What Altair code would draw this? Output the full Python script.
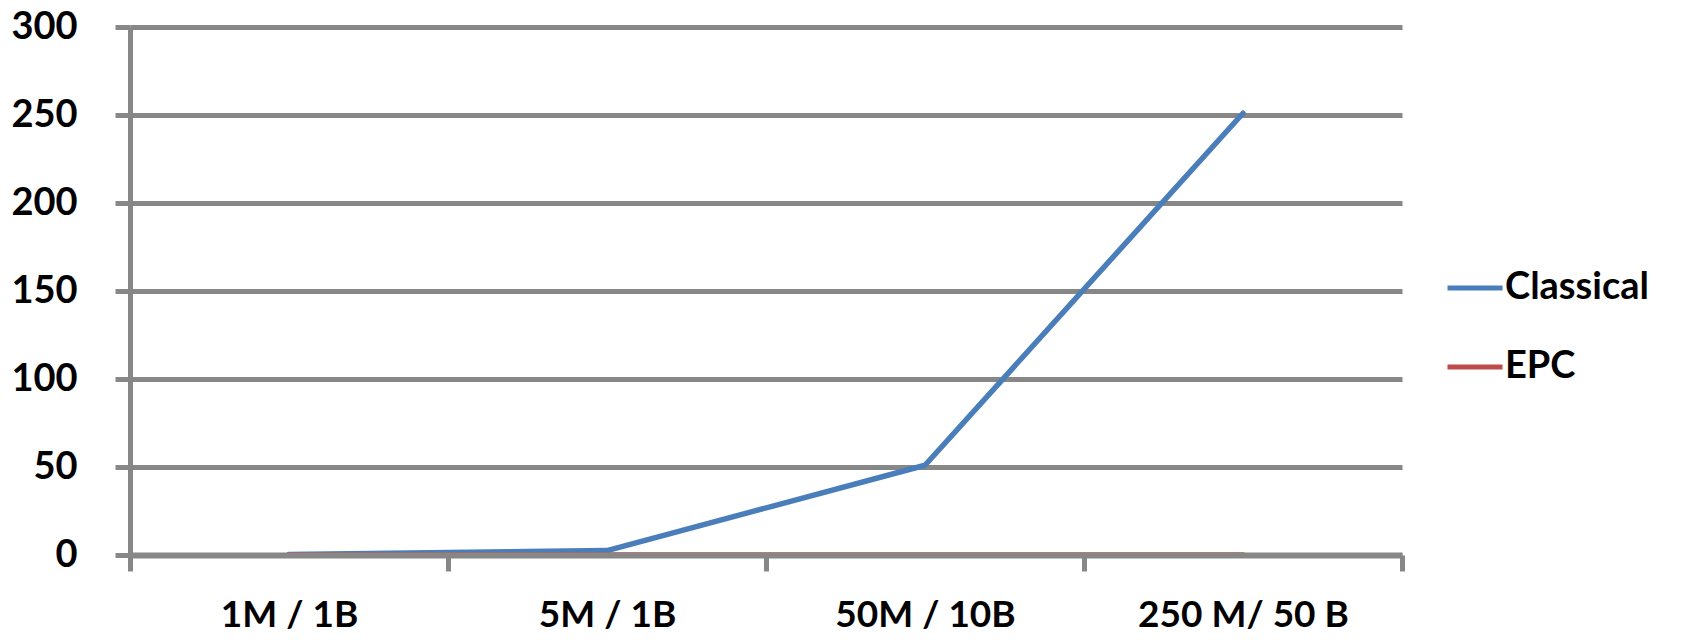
import altair as alt
import pandas as pd

categories = ["1M / 1B", "5M / 1B", "50M / 10B", "250 M/ 50 B"]
series_names = ["Classical", "EPC"]
series_colors = ["#4A7EBB", "#BE4B48"]
classical = [0.3, 2.5, 51, 251]
epc = [0, 0, 0, 0]
y_ticks = [0, 50, 100, 150, 200, 250, 300]

rows = []
for name, vals in zip(series_names, [classical, epc]):
    for c, v in zip(categories, vals):
        rows.append({"category": c, "series": name, "value": v})
df = pd.DataFrame(rows)

FONT = "Lato"
GRID = "#878787"
WEIGHT = "bold"

chart = alt.Chart(df).mark_line(
    strokeWidth=5.5, strokeCap="round", strokeJoin="round"
).encode(
    x=alt.X(
        "category:N",
        sort=categories,
        bandPosition=0.5,
        scale=alt.Scale(type="band", paddingInner=0, paddingOuter=0),
        axis=alt.Axis(
            title=None, tickBand="extent", labelAngle=0, grid=False,
            domainColor=GRID, domainWidth=6, tickColor=GRID, tickWidth=5, tickSize=16,
            labelFont=FONT, labelFontSize=37, labelFontWeight=WEIGHT, labelColor="black",
            labelPadding=26, labelLimit=0, zindex=1,
        ),
    ),
    y=alt.Y(
        "value:Q",
        scale=alt.Scale(domain=[0, 300], nice=False),
        axis=alt.Axis(
            title=None, values=y_ticks, grid=True, gridColor=GRID, gridWidth=5, gridOpacity=1,
            domainColor=GRID, domainWidth=5, tickColor=GRID, tickWidth=5, tickSize=15,
            labelFont=FONT, labelFontSize=38, labelFontWeight=WEIGHT, labelColor="black",
            labelPadding=38, labelFlush=False, labelOverlap=False, labelBound=False, zindex=0,
        ),
    ),
    color=alt.Color(
        "series:N",
        scale=alt.Scale(domain=series_names, range=series_colors),
        legend=alt.Legend(
            title=None, orient="none", legendX=1315, legendY=231,
            symbolType="stroke", symbolSize=3025, symbolStrokeWidth=5,
            labelFont=FONT, labelFontSize=38, labelFontWeight=WEIGHT, labelColor="black",
            rowPadding=30, labelOffset=0, padding=0, labelLimit=0,
        ),
    ),
).properties(
    width=1272,
    height=528,
    autosize=alt.AutoSizeParams(type="none"),
    padding={"left": 122, "top": 19, "right": 270, "bottom": 77},
).configure_view(strokeWidth=0)

chart.save("out.html", embed_options={"renderer": "svg", "actions": False})
